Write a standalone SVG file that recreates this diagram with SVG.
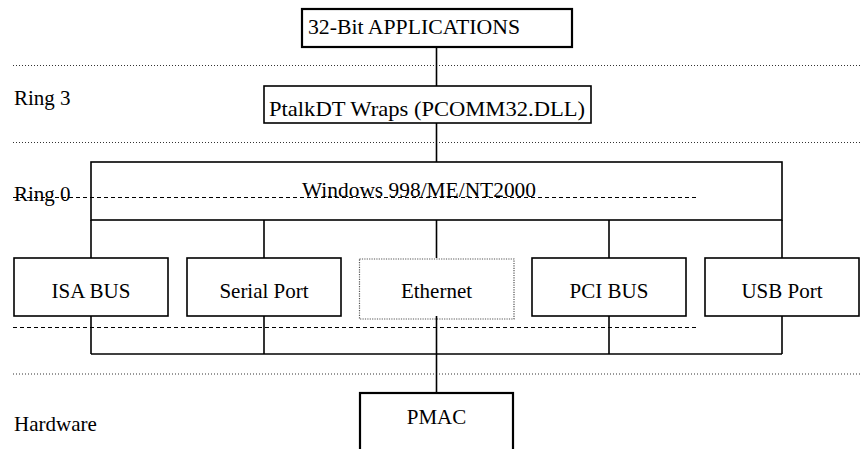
<svg xmlns="http://www.w3.org/2000/svg" width="863" height="449" viewBox="0 0 863 449">
<style>
text{font-family:'Liberation Serif','Times New Roman',serif;font-size:21px;fill:#000}
.box{fill:#fff;stroke:#000;stroke-width:1.6}
.thick{fill:#fff;stroke:#000;stroke-width:2.2}
.eth{fill:#fff;stroke:#555;stroke-width:1.2;stroke-dasharray:1.2,1.2}
.dot{stroke:#333;stroke-width:1;stroke-dasharray:1,2;fill:none}
.dash{stroke:#000;stroke-width:1;stroke-dasharray:4,3;fill:none}
.wire{stroke:#000;stroke-width:1.6;fill:none}
.c{text-anchor:middle}
</style>
<g id="separators">
<line class="dot" x1="13" y1="65.5" x2="862" y2="65.5"/>
<line class="dot" x1="13" y1="142.5" x2="862" y2="142.5"/>
<line class="dot" x1="13" y1="374" x2="862" y2="374"/>
</g>
<g id="labels">
<text x="14" y="105">Ring 3</text>
<text x="14" y="431">Hardware</text>
</g>
<g id="connectors">
<line class="wire" x1="436.5" y1="47" x2="436.5" y2="86"/>
<line class="wire" x1="436.5" y1="123" x2="436.5" y2="162"/>
<line class="wire" x1="91" y1="220" x2="91" y2="258"/>
<line class="wire" x1="264" y1="220" x2="264" y2="258"/>
<line class="wire" x1="436.5" y1="220" x2="436.5" y2="258"/>
<line class="wire" x1="609" y1="220" x2="609" y2="258"/>
<line class="wire" x1="782" y1="220" x2="782" y2="258"/>
<line class="wire" x1="91" y1="316" x2="91" y2="354"/>
<line class="wire" x1="264" y1="316" x2="264" y2="354"/>
<line class="wire" x1="609" y1="316" x2="609" y2="354"/>
<line class="wire" x1="782" y1="316" x2="782" y2="354"/>
<line class="wire" x1="91" y1="354" x2="782" y2="354"/>
</g>
<g id="apps">
<rect class="thick" x="302" y="9" width="270" height="38"/>
<text x="308" y="34" textLength="212" lengthAdjust="spacingAndGlyphs">32-Bit APPLICATIONS</text>
</g>
<g id="ptalk">
<rect class="box" x="264" y="86" width="327" height="37"/>
<text x="269" y="116" textLength="316" lengthAdjust="spacingAndGlyphs">PtalkDT Wraps (PCOMM32.DLL)</text>
</g>
<g id="windows">
<rect class="box" x="91" y="162" width="691" height="58"/>
<text x="302" y="197" textLength="234" lengthAdjust="spacingAndGlyphs">Windows 998/ME/NT2000</text>
</g>
<g id="ring0">
<text x="14" y="201">Ring 0</text>
<line class="dash" x1="13" y1="197.5" x2="699" y2="197.5"/>
</g>
<g id="isa">
<rect class="box" x="14" y="258" width="154" height="58"/>
<text class="c" x="91" y="298">ISA BUS</text>
</g>
<g id="serial">
<rect class="box" x="187" y="258" width="154" height="58"/>
<text class="c" x="264" y="298">Serial Port</text>
</g>
<g id="ethernet">
<rect class="eth" x="359.5" y="259" width="154.5" height="60"/>
<text class="c" x="436.5" y="298">Ethernet</text>
</g>
<g id="pci">
<rect class="box" x="532" y="258" width="154" height="58"/>
<text class="c" x="609" y="298">PCI BUS</text>
</g>
<g id="usb">
<rect class="box" x="705" y="258" width="154" height="58"/>
<text class="c" x="782" y="298">USB Port</text>
</g>
<g id="ring0dash">
<line class="dash" x1="13" y1="327.5" x2="699" y2="327.5"/>
</g>
<g id="pmac">
<line class="wire" x1="436.5" y1="316" x2="436.5" y2="393"/>
<rect class="thick" x="360" y="393" width="153" height="70"/>
<text class="c" x="436.5" y="424">PMAC</text>
</g>
</svg>
